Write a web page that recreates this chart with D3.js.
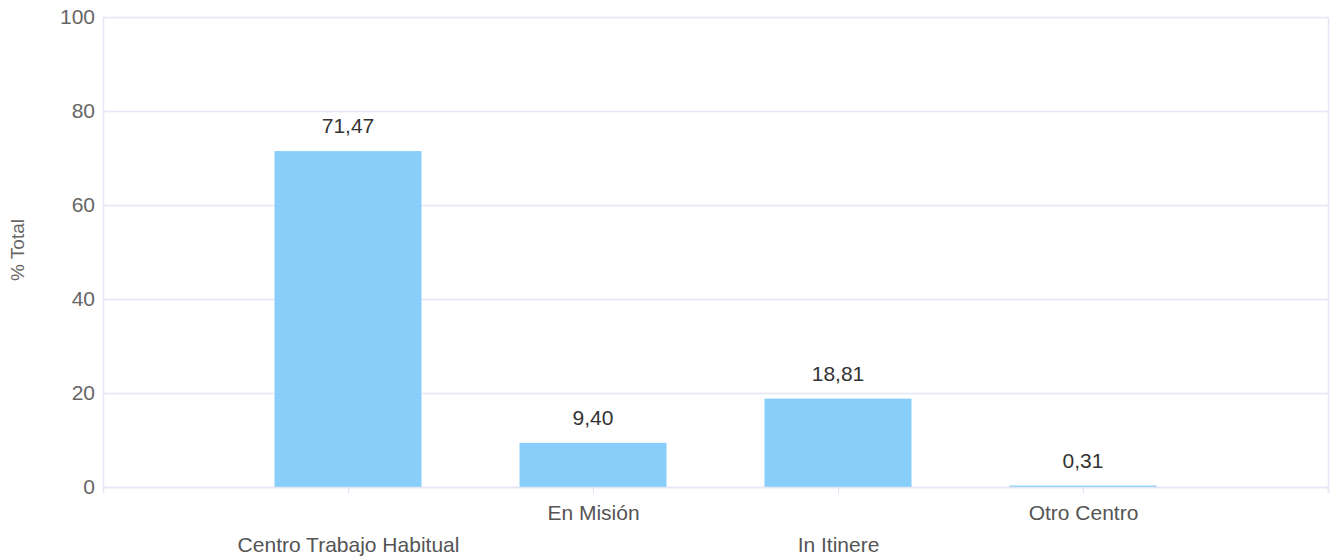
<!DOCTYPE html>
<html>
<head>
<meta charset="utf-8">
<script src="https://cdn.jsdelivr.net/npm/d3@7"></script>
<style>
  body { margin: 0; background: #fff; }
  text { font-family: "Liberation Sans", Arial, sans-serif; }
</style>
</head>
<body>
<script>
// chart data
var categories = ["Centro Trabajo Habitual", "En Misión", "In Itinere", "Otro Centro"];
var values = [71.47, 9.40, 18.81, 0.31];
var yTicks = [0, 20, 40, 60, 80, 100];

// canvas and plot area
var width = 1334;
var height = 559;
var plotLeft = 103, plotRight = 1328, plotTop = 17, plotBottom = 487;
var fontSize = "21px";

var svg = d3.select("body").append("svg")
    .attr("width", width)
    .attr("height", height);

// scales
var x = d3.scalePoint()
    .domain(categories)
    .range([plotLeft, plotRight])
    .padding(1);

var y = d3.scaleLinear()
    .domain([0, 100])
    .range([plotBottom, plotTop]);

var barWidth = x.step() * 0.6;

// horizontal grid lines
svg.append("g")
    .selectAll("line")
    .data(yTicks)
    .enter()
    .append("line")
    .attr("x1", plotLeft)
    .attr("x2", plotRight)
    .attr("y1", function(d) { return y(d) + 0.5; })
    .attr("y2", function(d) { return y(d) + 0.5; })
    .attr("stroke", "#e4e7f4")
    .attr("stroke-width", 1.5);

// left and right border
svg.append("line")
    .attr("x1", plotLeft + 0.5).attr("x2", plotLeft + 0.5)
    .attr("y1", plotTop).attr("y2", plotBottom)
    .attr("stroke", "#e4e7f4").attr("stroke-width", 1.5);
svg.append("line")
    .attr("x1", plotRight + 0.5).attr("x2", plotRight + 0.5)
    .attr("y1", plotTop).attr("y2", plotBottom + 6)
    .attr("stroke", "#e4e7f4").attr("stroke-width", 1.5);

// y axis labels
var yAxis = d3.axisLeft(y).tickValues(yTicks).tickSize(0).tickPadding(8);
var gy = svg.append("g")
    .attr("transform", "translate(" + plotLeft + ",0)")
    .call(yAxis);
gy.select(".domain").remove();
gy.selectAll("text")
    .attr("fill", "#666")
    .style("font-size", fontSize);

// y axis title
svg.append("text")
    .attr("transform", "rotate(-90)")
    .attr("x", -250)
    .attr("y", 24)
    .attr("text-anchor", "middle")
    .attr("fill", "#666")
    .style("font-size", "19px")
    .text("% Total");

// bars
svg.selectAll("rect.bar")
    .data(values)
    .enter()
    .append("rect")
    .attr("class", "bar")
    .attr("x", function(d, i) { return x(categories[i]) - barWidth / 2; })
    .attr("y", function(d) { return y(d); })
    .attr("width", barWidth)
    .attr("height", function(d) { return plotBottom - y(d); })
    .attr("fill", "#87cefa");

// value labels
svg.selectAll("text.value")
    .data(values)
    .enter()
    .append("text")
    .attr("class", "value")
    .attr("x", function(d, i) { return x(categories[i]); })
    .attr("y", function(d) { return y(d) - 18; })
    .attr("text-anchor", "middle")
    .attr("fill", "#333")
    .style("font-size", fontSize)
    .text(function(d) { return d.toFixed(2).replace(".", ","); });

// x axis with staggered labels
var xAxis = d3.axisBottom(x).tickSize(6).tickPadding(0);
var gx = svg.append("g")
    .attr("transform", "translate(0," + plotBottom + ")")
    .call(xAxis);
gx.select(".domain")
    .attr("stroke", "#e4e7f4")
    .attr("stroke-width", 1.5);
gx.selectAll(".tick line").attr("stroke", "#dfe2ee");
gx.selectAll(".tick text")
    .attr("fill", "#555")
    .style("font-size", fontSize)
    .attr("dy", null)
    .attr("y", function(d, i) { return i % 2 === 0 ? 65 : 33; });
</script>
</body>
</html>
